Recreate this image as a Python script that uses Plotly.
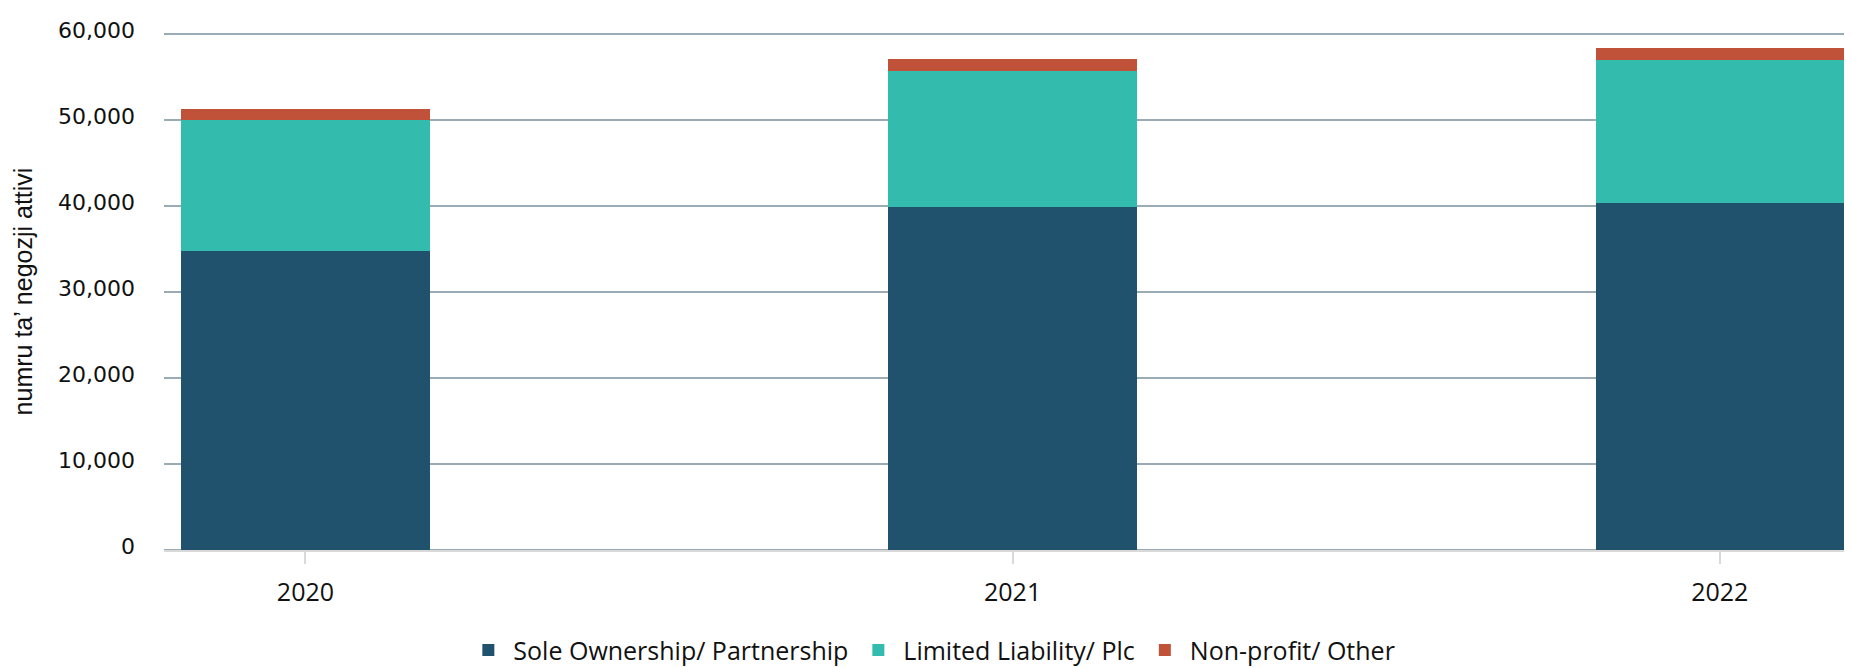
import plotly.graph_objects as go

years = ["2020", "2021", "2022"]
sole = [34800, 39900, 40350]
limited = [15200, 15800, 16650]
other = [1300, 1400, 1400]

names = ["Sole Ownership/ Partnership", "Limited Liability/ Plc", "Non-profit/ Other"]
colors = ["#20526e", "#33bbae", "#c0523a"]

fig = go.Figure()
for name, vals, col in zip(names, [sole, limited, other], colors):
    fig.add_trace(go.Bar(x=years, y=vals, name=name, marker=dict(color=col, line=dict(width=0))))

fig.update_layout(
    barmode="stack",
    bargap=0.649,
    width=1844, height=660,
    margin=dict(l=156, r=0, t=25, b=118),
    plot_bgcolor="white", paper_bgcolor="white",
    font=dict(family="Open Sans, Liberation Sans, sans-serif", size=20, color="#111111"),
    legend=dict(orientation="h", xref="container", x=0.501, xanchor="center",
                yref="container", y=0.027, yanchor="middle",
                font=dict(family="Open Sans", size=25), itemwidth=40, traceorder="normal"),
    xaxis=dict(type="category", range=[-0.2, 2.187], showgrid=False,
               showline=True, linecolor="#d9d9d9", linewidth=2,
               ticks="outside", ticklen=12, tickcolor="#d9d9d9", tickwidth=2,
               tickfont=dict(family="Open Sans", size=25), ticklabelstandoff=7),
    yaxis=dict(range=[0, 60150], tickvals=[0, 10000, 20000, 30000, 40000, 50000, 60000],
               tickformat=",", showgrid=True,
               gridcolor="#9aabb6", gridwidth=2, zeroline=True, zerolinecolor="#9aabb6",
               zerolinewidth=2, tickfont=dict(family="DejaVu Sans", size=22),
               ticklabelstandoff=28, ticklabelshift=-4,
               title=dict(text="numru ta’ negozji attivi", standoff=18,
                          font=dict(family="Liberation Sans, Arial", size=25))),
)

fig.write_html("out.html")
